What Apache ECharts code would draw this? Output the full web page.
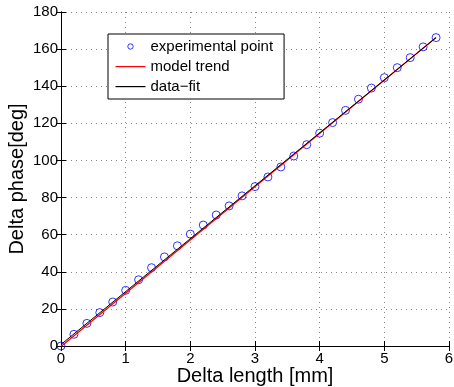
<!DOCTYPE html>
<html>
<head>
<meta charset="utf-8">
<script src="https://cdn.jsdelivr.net/npm/echarts@6/dist/echarts.min.js"></script>
<style>
  html, body {margin: 0; padding: 0; background: #fff;}
  #chart {width: 454px; height: 387px;}
</style>
</head>
<body>
<div id="chart"></div>
<script>
// measured points
const deltaLength = [0, 0.2, 0.4, 0.6, 0.8, 1.0, 1.2, 1.4, 1.6, 1.8, 2.0, 2.2, 2.4, 2.6, 2.8,
  3.0, 3.2, 3.4, 3.6, 3.8, 4.0, 4.2, 4.4, 4.6, 4.8, 5.0, 5.2, 5.4, 5.6, 5.8];
const deltaPhase = [0, 6.3, 12.2, 18, 23.7, 30, 35.7, 42.2, 48, 54, 60.3, 65.2, 70.6, 75.5, 80.9,
  85.9, 91.1, 96.5, 102.4, 108.5, 114.7, 120.4, 127, 133, 139, 144.6, 150, 155.4, 161.2, 166.2];

// straight lines, end points only
const modelX = [0, 5.8];
const modelY = [-0.3, 166.3];
const fitX = [0, 5.8];
const fitY = [0.8, 166.2];

const xTicks = [0, 1, 2, 3, 4, 5, 6];
const yTicks = [0, 20, 40, 60, 80, 100, 120, 140, 160, 180];

const font = 'Liberation Sans, Arial, Helvetica, sans-serif';
const zip = (a, b) => a.map((v, i) => [v, b[i]]);

// legend icons: invisible corner moves keep a 30x14 box
const lineIcon = 'path://M0,0M30,14M0,6.5h30v1.2h-30z';
const circleIcon = 'path://M0,0M30,14M17.7,7a2.7,2.7 0 1,1 -5.4,0a2.7,2.7 0 1,1 5.4,0z';

const chart = echarts.init(document.getElementById('chart'));

const sideAxis = {
  axisLine: {show: true, lineStyle: {color: '#000', width: 1}},
  axisTick: {show: true, inside: true, length: 5, lineStyle: {color: '#000'}},
  axisLabel: {show: false},
  splitLine: {show: false}
};

chart.setOption({
  animation: false,
  textStyle: {fontFamily: font},
  grid: {left: 61, right: 5, top: 12, bottom: 41, containLabel: false, outerBoundsMode: 'none'},
  legend: {
    orient: 'vertical',
    left: 108,
    top: 34,
    padding: [5, 11, 5, 7],
    itemGap: 5,
    itemWidth: 30,
    itemHeight: 14,
    borderColor: '#000',
    borderWidth: 1,
    backgroundColor: '#fff',
    textStyle: {fontSize: 15, color: '#000', fontFamily: font},
    data: [
      {name: 'experimental point', icon: circleIcon,
        itemStyle: {color: 'rgba(255,255,255,0)', borderColor: '#0000ff', borderWidth: 1}},
      {name: 'model trend', icon: lineIcon, itemStyle: {color: '#ff0000', borderWidth: 0}},
      {name: 'data\u2212fit', icon: lineIcon, itemStyle: {color: '#000', borderWidth: 0}}
    ]
  },
  xAxis: [{
    type: 'value',
    min: 0, max: 6, interval: 1,
    name: 'Delta length [mm]',
    nameLocation: 'middle',
    nameGap: 20,
    nameMoveOverlap: false,
    nameTextStyle: {fontSize: 20, color: '#000', fontFamily: font},
    axisLine: {show: true, onZero: false, lineStyle: {color: '#000', width: 1}},
    axisTick: {show: true, inside: true, length: 5, lineStyle: {color: '#000'}},
    axisLabel: {fontSize: 15, color: '#000', margin: 5,
      formatter: v => xTicks.includes(v) ? String(v) : ''},
    splitLine: {show: true, lineStyle: {color: '#888', type: [1, 4], width: 1}}
  }, {
    type: 'value', position: 'top',
    min: 0, max: 6, interval: 1,
    ...sideAxis
  }],
  yAxis: [{
    type: 'value',
    min: 0, max: 180, interval: 20,
    name: 'Delta phase[deg]',
    nameLocation: 'middle',
    nameGap: 34,
    nameMoveOverlap: false,
    nameTextStyle: {fontSize: 20, color: '#000', fontFamily: font},
    axisLine: {show: true, onZero: false, lineStyle: {color: '#000', width: 1}},
    axisTick: {show: true, inside: true, length: 5, lineStyle: {color: '#000'}},
    axisLabel: {fontSize: 15, color: '#000', margin: 3,
      formatter: v => yTicks.includes(v) ? String(v) : ''},
    splitLine: {show: true, lineStyle: {color: '#888', type: [1, 4], width: 1}}
  }, {
    type: 'value', position: 'right',
    min: 0, max: 180, interval: 20,
    ...sideAxis
  }],
  series: [
    {
      name: 'experimental point',
      type: 'scatter',
      data: zip(deltaLength, deltaPhase),
      symbol: 'circle',
      symbolSize: 8,
      itemStyle: {color: 'rgba(255,255,255,0)', borderColor: '#0000ff', borderWidth: 1},
      z: 2
    },
    {
      name: 'model trend',
      type: 'line',
      data: zip(modelX, modelY),
      showSymbol: false,
      symbol: 'none',
      lineStyle: {color: '#ff0000', width: 1.2},
      itemStyle: {color: '#ff0000'},
      z: 3
    },
    {
      name: 'data\u2212fit',
      type: 'line',
      data: zip(fitX, fitY),
      showSymbol: false,
      symbol: 'none',
      lineStyle: {color: '#000', width: 1},
      itemStyle: {color: '#000'},
      z: 4
    }
  ]
});
</script>
</body>
</html>
